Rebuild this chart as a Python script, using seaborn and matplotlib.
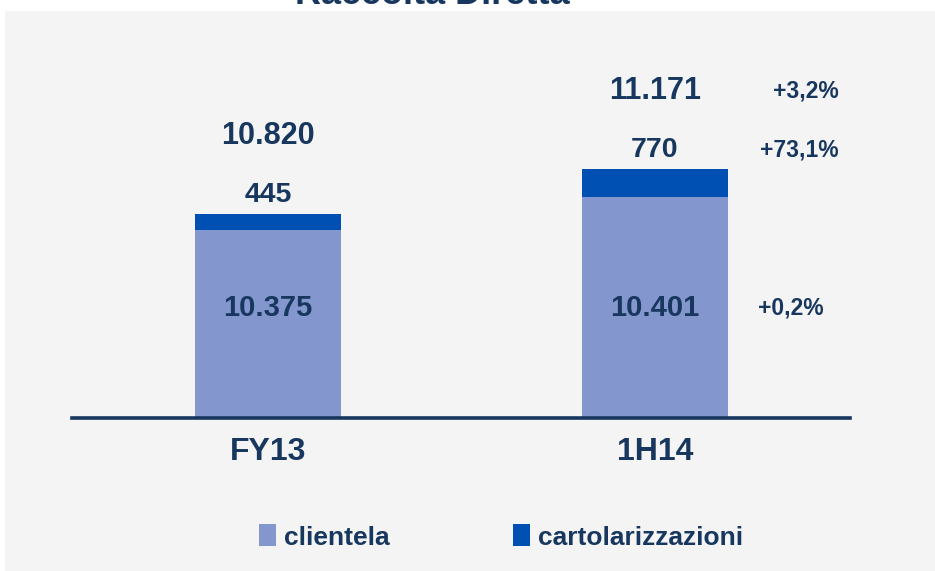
import numpy as np
import pandas as pd
import matplotlib.pyplot as plt
import matplotlib.transforms as mtransforms
from matplotlib.patches import Rectangle, Patch
import seaborn as sns

# ---- data ----
periods = ["FY13", "1H14"]
clientela = [10375, 10401]
cartolarizzazioni = [445, 770]
totale = [10820, 11171]
var_tot = "+3,2%"
var_cart = "+73,1%"
var_cli = "+0,2%"

# the slide truncates the axis and squeezes the securitisation slice
Y0 = 10227
CART_SCALE = 35

NAVY = "#17375E"
C_CLI = "#8496CE"
C_CART = "#0050B4"
BG = "#F4F4F4"

def fmt(v):
    return f"{v:,}".replace(",", ".")

sns.set_theme(style="white")
plt.rcParams["font.family"] = ["Liberation Sans", "DejaVu Sans"]
plt.rcParams["font.weight"] = "bold"

df = pd.DataFrame({
    "periodo": periods,
    "clientela": clientela,
    "stack": np.array(clientela) + np.array(cartolarizzazioni) / CART_SCALE,
})

fig = plt.figure(figsize=(9.35, 5.71), dpi=100, facecolor="white")
fig.patches.append(Rectangle((5 / 935, 0), 1, 1 - 11 / 571, transform=fig.transFigure,
                             facecolor=BG, edgecolor="none", zorder=-10))

ax = fig.add_axes([72 / 935, (571 - 418) / 571, 778 / 935, 358 / 571])
ax.set_facecolor("none")

# stacked look: full stack in dark blue, clientela drawn over it
sns.barplot(data=df, x="periodo", y="stack", color=C_CART, width=0.377,
            saturation=1, linewidth=0, ax=ax)
sns.barplot(data=df, x="periodo", y="clientela", color=C_CLI, width=0.377,
            saturation=1, linewidth=0, ax=ax)

ax.set_xlim(-0.506, 1.504)
ax.set_ylim(Y0, Y0 + 358 / 1.27)
ax.set_xlabel("")
ax.set_ylabel("")
ax.set_yticks([])
ax.tick_params(axis="x", length=0, pad=14, labelsize=23, labelcolor=NAVY)
for lab in ax.get_xticklabels():
    lab.set_fontweight("bold")
for s in ["top", "left", "right"]:
    ax.spines[s].set_visible(False)
ax.spines["bottom"].set_color(NAVY)
ax.spines["bottom"].set_linewidth(2.6)
ax.spines["bottom"].set_zorder(5)

# value labels
blend = mtransforms.blended_transform_factory(ax.transData, ax.transAxes)
for i, p in enumerate(periods):
    top = df["stack"][i]
    ax.annotate(fmt(cartolarizzazioni[i]), (i, top), xytext=(0, 13.7),
                textcoords="offset points", ha="center", va="center",
                fontsize=20.5, fontweight="bold", color=NAVY)
    ax.annotate(fmt(totale[i]), (i, top), xytext=(0, 56),
                textcoords="offset points", ha="center", va="center",
                fontsize=22, fontweight="bold", color=NAVY)
    ax.text(i, 0.307, fmt(clientela[i]), transform=blend, ha="center",
            va="center", fontsize=21, fontweight="bold", color=NAVY)

# variations next to 1H14
top1 = df["stack"][1]
ax.annotate(var_tot, (1, top1), xytext=(132, 56), textcoords="offset points",
            ha="right", va="center", fontsize=16.5, fontweight="bold", color=NAVY)
ax.annotate(var_cart, (1, top1), xytext=(132, 13.7), textcoords="offset points",
            ha="right", va="center", fontsize=16.5, fontweight="bold", color=NAVY)
ax.annotate(var_cli, (1, 0.307), xycoords=blend, xytext=(74, 0),
            textcoords="offset points", ha="left", va="center",
            fontsize=16.5, fontweight="bold", color=NAVY)

# title (cut off at the top in the original)
fig.text(432 / 935, 1 - 4 / 571, "Raccolta Diretta", ha="center", va="baseline",
         fontsize=26, fontweight="bold", color=NAVY)

handles = [Patch(facecolor=C_CLI, edgecolor="none", label="clientela"),
           Patch(facecolor=C_CART, edgecolor="none", label="cartolarizzazioni")]
fig.legend(handles=handles, loc="center", bbox_to_anchor=(501 / 935, 1 - 537 / 571),
           ncol=2, frameon=False, handlelength=0.65, handleheight=0.9,
           handletextpad=0.27, columnspacing=4.7,
           prop={"size": 19, "weight": "bold"}, labelcolor=NAVY)

fig.savefig("out.png", dpi=100, facecolor="white")
